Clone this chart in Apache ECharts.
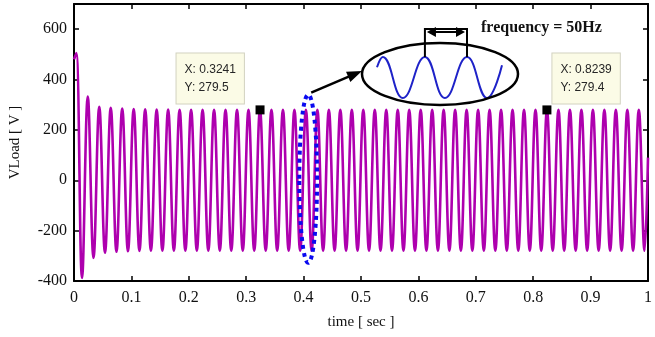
<!DOCTYPE html>
<html>
<head>
<meta charset="utf-8">
<script src="https://cdn.jsdelivr.net/npm/echarts@6/dist/echarts.min.js"></script>
<style>
  html, body { margin: 0; padding: 0; background: #fff; }
  #chart { width: 655px; height: 337px; }
</style>
</head>
<body>
<div id="chart"></div>
<script>
// load voltage, 50 Hz -> one peak and one trough per 0.02 s
const startValue = 480;
const firstPeakTime = 0.004;
const period = 0.02;
const endValue = 90;
const peakValues = [
  505, 332, 292, 288, 285, 283, 282, 281, 281, 280,
  280, 280, 280, 280, 280, 280, 279.5, 280, 280, 280,
  280, 280, 280, 280, 280, 280, 280, 280, 280, 280,
  280, 280, 280, 280, 280, 280, 280, 280, 280, 280,
  280, 279.4, 280, 280, 280, 280, 280, 280, 280, 280
];
const troughValues = [
  -388, -308, -288, -284, -282, -281, -280, -280, -280, -280,
  -280, -280, -280, -280, -280, -280, -280, -280, -280, -280,
  -280, -280, -280, -280, -280, -280, -280, -280, -280, -280,
  -280, -280, -280, -280, -280, -280, -280, -280, -280, -280,
  -280, -280, -280, -280, -280, -280, -280, -280, -280, -280
];

// data tips
const tipTimes = [0.3241, 0.8239];
const tipValues = [279.5, 279.4];

// zoomed sketch inside the ellipse (phase in periods, normalised value)
const insetPhase = [0, 0.14, 0.62, 1.15, 1.63, 2.16, 2.64, 3];
const insetWave = [0.5, 1, -1, 1, -1, 1, -1, 0.6];

const serif = 'Liberation Serif';

const loadData = [[0, startValue]];
for (let k = 0; k < peakValues.length; k++) {
  const t = firstPeakTime + k * period;
  loadData.push([+t.toFixed(4), peakValues[k]]);
  loadData.push([+(t + period / 2).toFixed(4), troughValues[k]]);
}
loadData.push([1, endValue]);

const chart = echarts.init(document.getElementById('chart'));

const frameLine = { lineStyle: { color: '#000', width: 2 } };
const innerTick = { inside: true, length: 5, lineStyle: { color: '#000', width: 1.5 } };

const option = {
  animation: false,
  backgroundColor: '#fff',
  grid: [
    { left: 73, right: 3, top: 4, bottom: 56 },
    { left: 377, top: 57, width: 125, height: 41 }
  ],
  xAxis: [
    {
      type: 'value', gridIndex: 0, position: 'bottom',
      min: 0, max: 1, interval: 0.1,
      name: 'time [ sec ]', nameLocation: 'middle', nameGap: 34,
      nameTextStyle: { fontFamily: serif, fontSize: 15, color: '#111' },
      axisLine: Object.assign({ onZero: false }, frameLine),
      axisTick: innerTick,
      axisLabel: { fontFamily: serif, fontSize: 16, color: '#111', margin: 9 },
      splitLine: { show: false }
    },
    {
      type: 'value', gridIndex: 0, position: 'top',
      min: 0, max: 1, interval: 0.1,
      axisLine: Object.assign({ onZero: false }, frameLine),
      axisTick: innerTick,
      axisLabel: { show: false },
      splitLine: { show: false }
    },
    { type: 'value', gridIndex: 1, min: 0, max: 3, show: false }
  ],
  yAxis: [
    {
      type: 'value', gridIndex: 0, position: 'left',
      min: -400, max: 700, interval: 200,
      name: 'VLoad [ V ]', nameLocation: 'middle', nameGap: 51,
      nameTextStyle: { fontFamily: serif, fontSize: 15, color: '#111' },
      axisLine: Object.assign({ onZero: false }, frameLine),
      axisTick: innerTick,
      axisLabel: { fontFamily: serif, fontSize: 16, color: '#111', margin: 7, showMaxLabel: false },
      splitLine: { show: false }
    },
    {
      type: 'value', gridIndex: 0, position: 'right',
      min: -400, max: 700, interval: 200,
      axisLine: Object.assign({ onZero: false }, frameLine),
      axisTick: innerTick,
      axisLabel: { show: false },
      splitLine: { show: false }
    },
    { type: 'value', gridIndex: 1, min: -1, max: 1, show: false }
  ],
  series: [
    {
      name: 'VLoad',
      type: 'line',
      xAxisIndex: 0, yAxisIndex: 0,
      data: loadData,
      smooth: 0.4,
      showSymbol: false,
      lineStyle: { color: '#AE00AE', width: 2.6 },
      z: 2
    },
    {
      name: 'tips',
      type: 'scatter',
      xAxisIndex: 0, yAxisIndex: 0,
      symbol: 'rect',
      symbolSize: 9,
      itemStyle: { color: '#000', opacity: 1 },
      z: 4,
      data: tipTimes.map(function (t, i) {
        return {
          value: [t, tipValues[i]],
          label: {
            show: true,
            position: i === 0 ? [-79, -52] : [10, -52],
            align: 'left',
            verticalAlign: 'top',
            formatter: 'X: ' + t + '\nY: ' + tipValues[i],
            fontFamily: 'Liberation Sans',
            fontSize: 12,
            lineHeight: 18,
            color: '#262626',
            backgroundColor: '#FBFBE6',
            borderColor: '#D2D2C0',
            borderWidth: 1,
            padding: [7, 8, 7, 8]
          }
        };
      })
    },
    {
      name: 'inset',
      type: 'line',
      xAxisIndex: 2, yAxisIndex: 2,
      data: insetPhase.map(function (p, i) { return [p, insetWave[i]]; }),
      smooth: 0.45,
      showSymbol: false,
      lineStyle: { color: '#1E22C8', width: 2 },
      z: 5
    }
  ]
};

chart.setOption(option);

// annotations
const px = function (t, v) { return chart.convertToPixel({ xAxisIndex: 0, yAxisIndex: 0 }, [t, v]); };
const insetPx = function (p, v) { return chart.convertToPixel({ xAxisIndex: 2, yAxisIndex: 2 }, [p, v]); };

const ringC = px(0.408, 6);
const ringEdge = px(0.4235, 340);
const ring = { cx: ringC[0], cy: ringC[1], rx: ringEdge[0] - ringC[0], ry: ringC[1] - ringEdge[1] };

const bubble = { cx: 440, cy: 74, rx: 78, ry: 31 };

const arrowFrom = [ring.cx + 3, ring.cy - ring.ry - 2];
const arrowTo = [bubble.cx - bubble.rx, bubble.cy - 3];
const dx = arrowTo[0] - arrowFrom[0], dy = arrowTo[1] - arrowFrom[1];
const len = Math.sqrt(dx * dx + dy * dy);
const ux = dx / len, uy = dy / len;
const headL = 15, headW = 5.5;
const head = [
  arrowTo,
  [arrowTo[0] - ux * headL - uy * headW, arrowTo[1] - uy * headL + ux * headW],
  [arrowTo[0] - ux * headL + uy * headW, arrowTo[1] - uy * headL - ux * headW]
];

const pk1 = insetPx(1.15, 1);
const pk2 = insetPx(2.16, 1);
const barY = 31;

chart.setOption({
  graphic: [
    {
      type: 'ellipse', z: 10,
      shape: ring,
      style: { fill: null, stroke: '#0A0AF0', lineWidth: 4, lineDash: [4, 4] }
    },
    {
      type: 'ellipse', z: 10,
      shape: bubble,
      style: { fill: null, stroke: '#000', lineWidth: 2.5 }
    },
    {
      type: 'line', z: 10,
      shape: { x1: arrowFrom[0], y1: arrowFrom[1], x2: arrowTo[0] - ux * 10, y2: arrowTo[1] - uy * 10 },
      style: { stroke: '#000', lineWidth: 2.5 }
    },
    { type: 'polygon', z: 10, shape: { points: head }, style: { fill: '#000' } },
    {
      type: 'polyline', z: 10,
      shape: { points: [[pk1[0], pk1[1]], [pk1[0], barY - 2], [pk2[0], barY - 2], [pk2[0], pk2[1]]] },
      style: { stroke: '#000', lineWidth: 2, fill: null }
    },
    {
      type: 'line', z: 10,
      shape: { x1: pk1[0] + 4, y1: barY + 1, x2: pk2[0] - 4, y2: barY + 1 },
      style: { stroke: '#000', lineWidth: 2 }
    },
    {
      type: 'polygon', z: 10,
      shape: { points: [[pk1[0] + 2, barY + 1], [pk1[0] + 11, barY - 4], [pk1[0] + 11, barY + 6]] },
      style: { fill: '#000' }
    },
    {
      type: 'polygon', z: 10,
      shape: { points: [[pk2[0] - 2, barY + 1], [pk2[0] - 11, barY - 4], [pk2[0] - 11, barY + 6]] },
      style: { fill: '#000' }
    },
    {
      type: 'text', z: 10,
      style: {
        text: 'frequency = 50Hz',
        x: 481, y: 28,
        verticalAlign: 'middle',
        font: 'bold 16px "Liberation Serif"',
        fill: '#111'
      }
    }
  ]
});
</script>
</body>
</html>
